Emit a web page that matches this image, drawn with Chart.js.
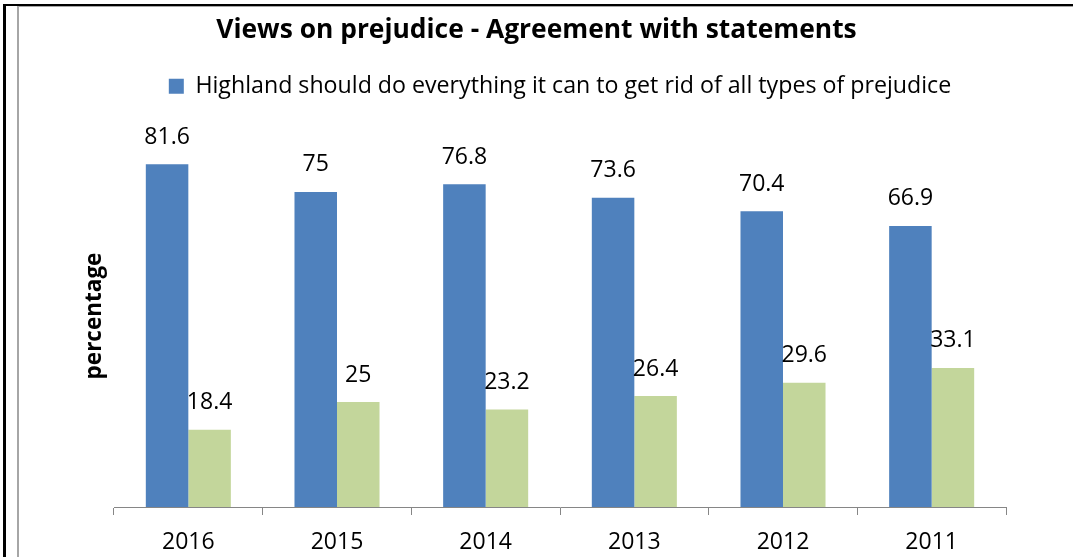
<!DOCTYPE html>
<html><head><meta charset="utf-8">
<script src="https://cdn.jsdelivr.net/npm/chart.js@4/dist/chart.umd.min.js"></script>
<style>html,body{margin:0;padding:0;background:#fff;overflow:hidden}#wrap{position:relative;width:1073px;height:557px}</style>
</head><body><div id="wrap"><canvas id="c" width="1073" height="557"></canvas></div>
<script>
const chartTitle = 'Views on prejudice - Agreement with statements';
const yAxisTitle = 'percentage';
const categories = ['2016', '2015', '2014', '2013', '2012', '2011'];
const seriesNames = ['Highland should do everything it can to get rid of all types of prejudice', 'Series 2'];
const agreeValues = [81.6, 75, 76.8, 73.6, 70.4, 66.9];
const otherValues = [18.4, 25, 23.2, 26.4, 29.6, 33.1];

const FONT = "'Open Sans', Lato, sans-serif";
Chart.defaults.font.family = FONT;
Chart.defaults.color = '#000';

const framePlugin = {
  id: 'frame',
  beforeDraw(chart) {
    const ctx = chart.ctx;
    ctx.save();
    ctx.fillStyle = '#fff';
    ctx.fillRect(0, 0, chart.width, chart.height);
    ctx.fillStyle = '#000';
    ctx.fillRect(3, 4, 3, chart.height - 4);
    ctx.fillRect(3, 4, chart.width - 3, 2);
    ctx.fillStyle = '#a6a6a6';
    ctx.fillRect(17, 6, 2, chart.height - 6);
    ctx.fillRect(17, 6, chart.width - 17, 1);
    ctx.restore();
  }
};

const labelPlugin = {
  id: 'valueLabels',
  afterDatasetsDraw(chart) {
    const ctx = chart.ctx;
    ctx.save();
    ctx.font = '23px ' + FONT;
    ctx.fillStyle = '#000';
    ctx.textAlign = 'center';
    ctx.textBaseline = 'middle';
    chart.data.datasets.forEach((ds, i) => {
      chart.getDatasetMeta(i).data.forEach((el, j) => {
        ctx.fillText(String(ds.data[j]), el.x, el.y - 27);
      });
    });
    const ca = chart.chartArea;
    ctx.font = 'bold 22.5px ' + FONT;
    ctx.translate(95, ca.bottom - 191);
    ctx.rotate(-Math.PI / 2);
    ctx.fillText(yAxisTitle, 0, 0);
    ctx.restore();
  }
};

new Chart(document.getElementById('c'), {
  type: 'bar',
  data: {
    labels: categories,
    datasets: [
      { label: seriesNames[0], data: agreeValues, backgroundColor: '#4F81BD' },
      { label: seriesNames[1], data: otherValues, backgroundColor: '#C3D69B' }
    ]
  },
  options: {
    responsive: false,
    devicePixelRatio: 1,
    animation: false,
    layout: { padding: 0 },
    datasets: { bar: { categoryPercentage: 0.572, barPercentage: 1.0 } },
    plugins: {
      title: {
        display: true, text: chartTitle,
        font: { size: 26.4, weight: 'bold', family: FONT },
        color: '#000',
        padding: { top: 15, bottom: 18 }
      },
      legend: {
        display: true, position: 'top', fullSize: false,
        labels: {
          boxWidth: 15, boxHeight: 15, padding: 10,
          font: { size: 23.2, family: FONT }, color: '#000',
          filter: (item) => item.datasetIndex === 0
        }
      },
      tooltip: { enabled: false }
    },
    scales: {
      x: {
        grid: { display: true, offset: true, drawOnChartArea: false, drawTicks: true, tickLength: 8, color: '#868686', lineWidth: 1 },
        border: { display: true, color: '#868686', width: 1 },
        ticks: { font: { size: 23, family: FONT }, color: '#000', padding: 14 },
        afterFit(scale) { scale.height = 50; }
      },
      y: {
        min: 0, max: 95,
        grid: { display: false },
        border: { display: false },
        ticks: { display: false },
        afterFit(scale) { scale.width = 114; }
      },
      y2: {
        position: 'right', min: 0, max: 95,
        grid: { display: false },
        border: { display: false },
        ticks: { display: false },
        afterFit(scale) { scale.width = 67; }
      }
    }
  },
  plugins: [framePlugin, labelPlugin]
});
</script></body></html>
